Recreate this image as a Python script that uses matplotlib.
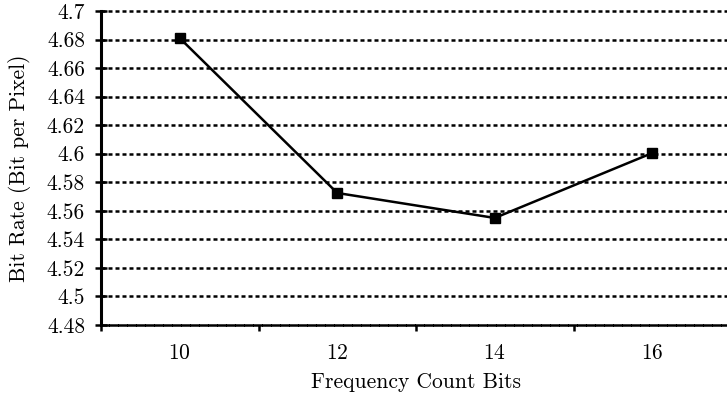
import matplotlib
matplotlib.use("Agg")
import matplotlib.pyplot as plt
from matplotlib.ticker import FixedLocator, FormatStrFormatter

freq_bits = [10, 12, 14, 16]
bit_rate = [4.681, 4.5725, 4.555, 4.6005]
y_ticks = [4.48, 4.5, 4.52, 4.54, 4.56, 4.58, 4.6, 4.62, 4.64, 4.66, 4.68, 4.7]
x_ticks = [10, 12, 14, 16]
x_minor = [9, 11, 13, 15]

plt.rcParams['font.family'] = 'serif'
plt.rcParams['font.serif'] = ['cmr10', 'DejaVu Serif']
plt.rcParams['mathtext.fontset'] = 'cm'
plt.rcParams['axes.formatter.use_mathtext'] = True

fig = plt.figure(figsize=(7.27, 3.93), dpi=100)
ax = fig.add_axes([101/727, 1-325/393, 630/727, (325-11)/393])
ax.set_xlim(9, 17)
ax.set_ylim(4.48, 4.7)

for y in y_ticks[1:]:
    ax.axhline(y, color='black', lw=1.8, ls=(0, (1.6, 1.2)), zorder=1, clip_on=False)

ax.plot(freq_bits, bit_rate, color='black', lw=1.8, marker='s', markersize=7.5, zorder=3)

ax.yaxis.set_major_locator(FixedLocator(y_ticks))
ax.yaxis.set_major_formatter(FormatStrFormatter('%g'))
ax.xaxis.set_major_locator(FixedLocator(x_ticks))
ax.xaxis.set_minor_locator(FixedLocator(x_minor))
ax.tick_params(axis='y', direction='inout', length=9, width=1.8, labelsize=15.5, pad=7)
ax.tick_params(axis='x', which='major', length=0, labelsize=15.5, pad=13)
ax.tick_params(axis='x', which='minor', direction='out', length=4, width=1.8)

for s in ['top', 'right']:
    ax.spines[s].set_visible(False)
ax.spines['left'].set_linewidth(2.2)
ax.spines['left'].set_zorder(4)
ax.spines['bottom'].set_linewidth(1.8)
ax.spines['bottom'].set_linestyle((0, (2.8, 0.8)))

ax.set_xlabel('Frequency Count Bits', fontsize=15.5, labelpad=7)
ax.set_ylabel('Bit Rate (Bit per Pixel)', fontsize=15.5, labelpad=11)

fig.savefig('out.png', dpi=100)
